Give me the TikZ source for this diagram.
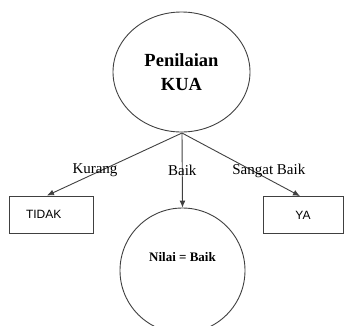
\documentclass[tikz,border=0pt]{standalone}
\usepackage{fontspec}
\setmainfont{Liberation Serif}
\newfontfamily\arialfont{Liberation Sans}
\usetikzlibrary{shapes.geometric,arrows.meta,calc}
\begin{document}
\begin{tikzpicture}[x=1pt,y=-1pt,
  outline/.style={draw=black!75,line width=0.9pt},
  conn/.style={draw=black!75,line width=0.9pt,-{Latex[length=7pt,width=6pt]}},
  lbl/.style={font=\fontsize{15}{18}\selectfont,inner sep=0pt},
  answer/.style={outline,rectangle,minimum height=37pt,inner sep=0pt,font=\arialfont\fontsize{12}{14}\selectfont}]
\useasboundingbox (0,0) rectangle (344,325);
\clip (0,0) rectangle (344,325);
\node[outline,ellipse,minimum width=137pt,minimum height=120pt,inner sep=0pt,
  align=center,font=\bfseries\fontsize{18.5}{24}\selectfont] (top) at (181.5,72) {Penilaian\\KUA};
\node[answer,minimum width=84pt,text width=50pt,align=left,inner xsep=17pt] (tidak) at (51,214.5) {TIDAK};
\node[answer,minimum width=80pt] (ya) at (303,215) {YA};
\node[outline,circle,minimum size=125pt,inner sep=0pt] (nilai) at (182.5,270.5) {};
\node[font=\bfseries\fontsize{13}{15}\selectfont,inner sep=0pt] (nilaitext) at ($(nilai.center)+(0,-13)$) {Nilai = Baik};
\coordinate (apex) at (182,133);
\draw[conn] (apex) -- node[lbl,pos=0.6,xshift=-6pt] {Kurang} (tidak.north -| 47,0);
\draw[conn] (apex) -- node[lbl,pos=0.507] {Baik} (nilai.north);
\draw[conn] (apex) -- node[lbl,pos=0.6,xshift=16pt] {Sangat Baik} (ya.north -| 300,0);
\end{tikzpicture}
\end{document}
